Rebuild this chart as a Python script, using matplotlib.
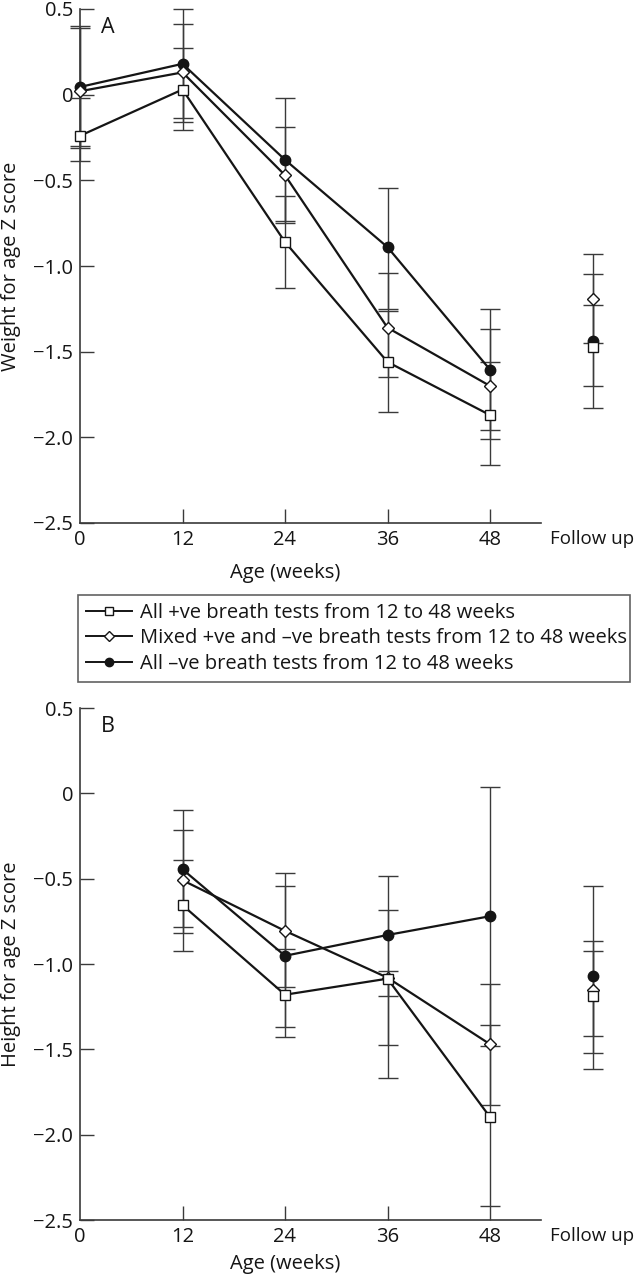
import matplotlib
matplotlib.use("Agg")
import matplotlib.pyplot as plt
from matplotlib.lines import Line2D

# ---------------- data ----------------
weeks_A = [0, 12, 24, 36, 48]
weeks_B = [12, 24, 36, 48]
followup_x = 60
xtick_vals = [0, 12, 24, 36, 48, 60]
xtick_labels = ["0", "12", "24", "36", "48", "Follow up"]
ytick_vals = [0.5, 0, -0.5, -1.0, -1.5, -2.0, -2.5]
ytick_labels = ["0.5", "0", "\u22120.5", "\u22121.0", "\u22121.5", "\u22122.0", "\u22122.5"]

series_names = ["All +ve breath tests from 12 to 48 weeks",
                "Mixed +ve and \u2013ve breath tests from 12 to 48 weeks",
                "All \u2013ve breath tests from 12 to 48 weeks"]

# Panel A: weight for age Z score (weeks 0..48), then follow up
A_pos_mean = [-0.24, 0.03, -0.86, -1.56, -1.87]
A_pos_lo = [-0.39, -0.205, -1.13, -1.85, -2.16]
A_pos_hi = [-0.02, 0.27, -0.59, -1.26, -1.56]
A_pos_fu = [-1.47, -1.70, -1.23]          # mean, low, high

A_mix_mean = [0.02, 0.13, -0.47, -1.36, -1.70]
A_mix_lo = [-0.30, -0.136, -0.75, -1.65, -2.01]
A_mix_hi = [0.39, 0.41, -0.19, -1.04, -1.37]
A_mix_fu = [-1.19, -1.45, -0.93]

A_neg_mean = [0.045, 0.18, -0.38, -0.89, -1.605]
A_neg_lo = [-0.31, -0.16, -0.74, -1.25, -1.96]
A_neg_hi = [0.40, 0.50, -0.02, -0.545, -1.25]
A_neg_fu = [-1.44, -1.83, -1.045]

# Panel B: height for age Z score (weeks 12..48), then follow up
B_pos_mean = [-0.655, -1.18, -1.086, -1.897]
B_pos_lo = [-0.923, -1.43, -1.67, -2.42]
B_pos_hi = [-0.392, -0.911, -1.04, -1.36]
B_pos_fu = [-1.19, -1.52, -0.923]

B_mix_mean = [-0.509, -0.806, -1.08, -1.47]
B_mix_lo = [-0.818, -1.133, -1.477, -1.827]
B_mix_hi = [-0.217, -0.468, -0.684, -1.12]
B_mix_fu = [-1.15, -1.42, -0.864]

B_neg_mean = [-0.445, -0.952, -0.83, -0.72]
B_neg_lo = [-0.783, -1.372, -1.19, -1.48]
B_neg_hi = [-0.10, -0.544, -0.485, 0.04]
B_neg_fu = [-1.068, -1.617, -0.544]

# ---------------- style ----------------
FONT = "Open Sans"
plt.rcParams["font.family"] = [FONT, "DejaVu Sans"]
FS = 14.5
INK = "#151515"
AXC = "#3a3a3a"

styles = [
    dict(marker="s", ms=7, mfc="white", mec=INK, mew=1.0),
    dict(marker="D", ms=6, mfc="white", mec=INK, mew=1.0),
    dict(marker="o", ms=7.5, mfc=INK, mec=INK, mew=1.0),
]
zorders = [5, 4, 3]

fig = plt.figure(figsize=(6.35, 12.8), dpi=100)
W, H = 635.0, 1280.0
AX_W_PX = 64 / 12 * 102.5


def axes_rect(top_px, bottom_px):
    left = 80 / W
    return [left, 1 - bottom_px / H, AX_W_PX / W, (bottom_px - top_px) / H]


axA = fig.add_axes(axes_rect(9, 523))
axB = fig.add_axes(axes_rect(708, 1220))


def draw_series(ax, x, mean, lo, hi, fu, st, z):
    yerr = [[m - l for m, l in zip(mean, lo)], [h - m for m, h in zip(mean, hi)]]
    ax.errorbar(x, mean, yerr=yerr, fmt="none", ecolor=AXC, elinewidth=1.0,
                capsize=7, capthick=1.0, zorder=2)
    ax.plot(x, mean, color=INK, lw=1.6, zorder=z, **st)
    fyerr = [[fu[0] - fu[1]], [fu[2] - fu[0]]]
    ax.errorbar([followup_x], [fu[0]], yerr=fyerr, fmt="none", ecolor=AXC,
                elinewidth=1.0, capsize=7, capthick=1.0, zorder=2)
    ax.plot([followup_x], [fu[0]], linestyle="none", zorder=z, **st)


def style_axes(ax, ylabel, letter, h_px, xlab_off):
    ax.set_xlim(0, 64)
    ax.set_ylim(-2.5, 0.5)
    for s in ["top", "right"]:
        ax.spines[s].set_visible(False)
    for s in ["left", "bottom"]:
        ax.spines[s].set_color(AXC)
        ax.spines[s].set_linewidth(1.2)
    ax.spines["bottom"].set_bounds(0, 54)
    ax.set_xticks(xtick_vals)
    ax.set_xticklabels(xtick_labels)
    ax.set_yticks(ytick_vals)
    ax.set_yticklabels(ytick_labels)
    ax.tick_params(direction="in", length=10, width=1.0, color=AXC,
                   labelsize=FS, labelcolor=INK)
    ax.tick_params(axis="x", pad=5)
    ax.tick_params(axis="y", pad=5)
    ax.get_xticklabels()[-1].set_fontsize(13.5)
    ax.xaxis.get_major_ticks()[-1].tick1line.set_visible(False)
    ax.xaxis.get_major_ticks()[0].tick1line.set_visible(False)
    ax.set_xlabel("Age (weeks)", fontsize=FS, color=INK, va="center")
    ax.xaxis.set_label_coords(24 / 64, -xlab_off / h_px)
    ax.set_ylabel(ylabel, fontsize=FS, color=INK, va="center")
    ax.yaxis.set_label_coords(-69 / AX_W_PX, 0.5)
    ax.text(2.5, 0.39, letter, fontsize=FS + 1, color=INK, va="center", ha="left")


A_sets = [(A_pos_mean, A_pos_lo, A_pos_hi, A_pos_fu),
          (A_mix_mean, A_mix_lo, A_mix_hi, A_mix_fu),
          (A_neg_mean, A_neg_lo, A_neg_hi, A_neg_fu)]
B_sets = [(B_pos_mean, B_pos_lo, B_pos_hi, B_pos_fu),
          (B_mix_mean, B_mix_lo, B_mix_hi, B_mix_fu),
          (B_neg_mean, B_neg_lo, B_neg_hi, B_neg_fu)]

for (m, l, h, f), st, z in zip(A_sets, styles, zorders):
    draw_series(axA, weeks_A, m, l, h, f, st, z)
for (m, l, h, f), st, z in zip(B_sets, styles, zorders):
    draw_series(axB, weeks_B, m, l, h, f, st, z)

for ax in (axA, axB):
    for ln in ax.lines:
        ln.set_clip_on(False)
    for c in ax.collections:
        c.set_clip_on(False)

style_axes(axA, "Weight for age Z score", "A", 514, 50)
style_axes(axB, "Height for age Z score", "B", 512, 44)

handles = [Line2D([], [], color=INK, lw=1.4, **dict(st, ms=st["ms"] * 0.8))
           for st in styles]
leg = fig.legend(handles, series_names, loc="upper left",
                 bbox_to_anchor=(78 / W, 1 - 595 / H, (630 - 78) / W, 0.0),
                 mode="expand", fontsize=FS, frameon=True, fancybox=False,
                 edgecolor=AXC, handlelength=2.3, handletextpad=0.4,
                 labelspacing=0.27, borderpad=0.4, borderaxespad=0.0)
leg.get_frame().set_linewidth(1.2)
for t in leg.get_texts():
    t.set_color(INK)

fig.savefig("out.png", dpi=100)
